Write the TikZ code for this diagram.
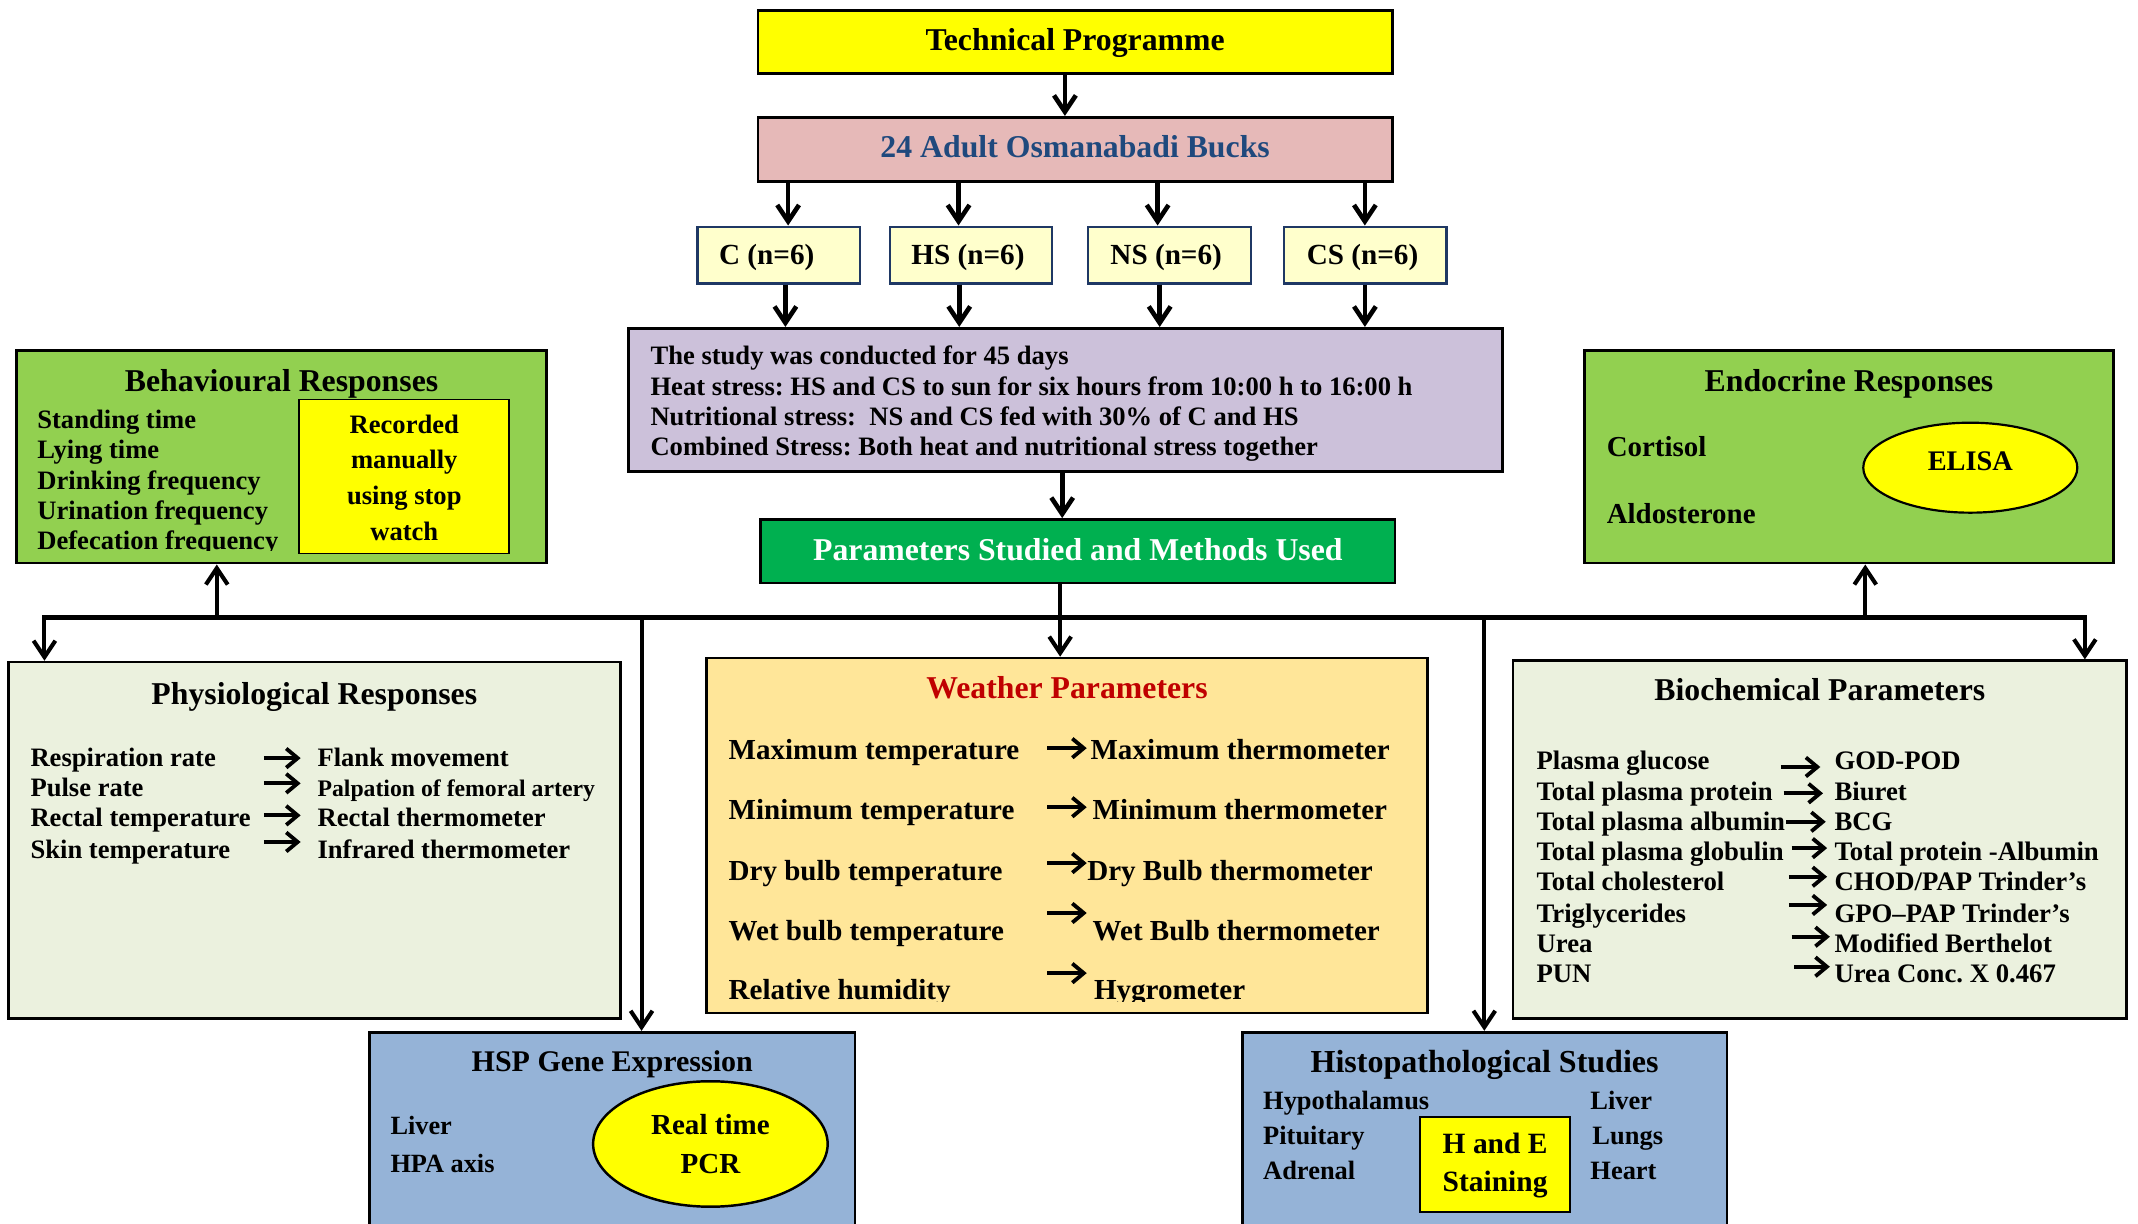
\documentclass[tikz,border=0pt]{standalone}
\usepackage{fontspec}
\setmainfont{Liberation Serif}
\usetikzlibrary{arrows.meta,fit,shapes.geometric}
\definecolor{cYellow}{HTML}{FFFF00}
\definecolor{cPink}{HTML}{E6B9B8}
\definecolor{cBlueText}{HTML}{1F497D}
\definecolor{cGroup}{HTML}{FFFFCC}
\definecolor{cGroupBorder}{HTML}{1F3864}
\definecolor{cLav}{HTML}{CCC1DA}
\definecolor{cParam}{HTML}{00B050}
\definecolor{cLime}{HTML}{92D050}
\definecolor{cPale}{HTML}{EBF1DE}
\definecolor{cWeather}{HTML}{FFE699}
\definecolor{cRed}{HTML}{C00000}
\definecolor{cSteel}{HTML}{95B3D7}
\newcommand\fs[1]{\fontsize{#1pt}{#1pt}\selectfont\bfseries}
\newcommand\st{\rule[-0.25em]{0pt}{1.05em}}
\frenchspacing
\begin{document}
\begin{tikzpicture}[x=0.5pt,y=-0.5pt,
  box/.style={draw=black, line width=1pt, inner sep=0pt},
  grp/.style={draw=cGroupBorder, line width=0.9pt, fill=cGroup, inner sep=0pt},
  ybox/.style={draw=black, line width=0.6pt, fill=cYellow, inner sep=0pt},
  txt/.style={inner sep=0pt, anchor=west, execute at begin node={\frenchspacing\st}},
  ctxt/.style={inner sep=0pt, anchor=center, execute at begin node={\frenchspacing\st}},
  fsz/.style={font=\fs{#1}},
  conn/.style={line width=1.7pt, -{Straight Barb[length=6pt,width=8pt]}},
  busline/.style={line width=1.9pt, line cap=rect},
  drop/.style={line width=1.5pt, -{Straight Barb[length=6pt,width=8pt]}},
  plain/.style={line width=1.5pt},
  marrow/.style={line width=1.4pt, -{Straight Barb[length=4.2pt,width=7pt]}},
]
\useasboundingbox (0,0) rectangle (1568,897);
\clip (0,0) rectangle (1568,897);
\fill[white] (0,0) rectangle (1568,897);

% ---------- top ----------
\node[box, fill=cYellow, fit={(556,7.5) (1021,54)}] (tech) {};
\node[ctxt, fsz=11.65] (techT) at (788.5,30.6) {Technical Programme};
\node[box, fill=cPink, fit={(556,86) (1021,133)}] (bucks) {};
\node[ctxt, fsz=11.65, text=cBlueText] (bucksT) at (788.5,108.8) {24 Adult Osmanabadi Bucks};
\draw[conn] (781,0 |- tech.south) -- (781,0 |- bucks.north);

\node[grp, fit={(511.6,166.3) (630.7,207.8)}] (gC) {};
\node[grp, fit={(652.7,166.3) (771.7,207.8)}] (gHS) {};
\node[grp, fit={(798,166.3) (917.6,207.8)}] (gNS) {};
\node[grp, fit={(941.8,166.3) (1061,207.8)}] (gCS) {};
\node[txt, fsz=10.7] (gCt) at (527,188.3) {C (n=6)};
\node[txt, fsz=10.7] (gHSt) at (668,188.3) {HS (n=6)};
\node[txt, fsz=10.7] (gNSt) at (814,188.3) {NS (n=6)};
\node[txt, fsz=10.7] (gCSt) at (958,188.3) {CS (n=6)};
\foreach \x/\g in {578/gC, 703/gHS, 849/gNS, 1001/gCS}
  \draw[conn] (\x,0 |- bucks.south) -- (\x,0 |- \g.north);

\node[box, fill=cLav, fit={(461,240.8) (1101.8,346)}] (study) {};
\foreach \x/\g in {576/gC, 703.5/gHS, 850.5/gNS, 1001/gCS}
  \draw[conn] (\x,0 |- \g.south) -- (\x,0 |- study.north);
\node[txt, fsz=9.75] (s1) at (476.7,261.6) {The study was conducted for 45 days};
\node[txt, fsz=9.75] (s2) at (476.7,284.8) {Heat stress: HS and CS to sun for six hours from 10:00 h to 16:00 h};
\node[txt, fsz=9.75] (s3) at (476.7,306.8) {Nutritional stress:~ NS and CS fed with 30\% of C and HS};
\node[txt, fsz=9.75] (s4) at (476.7,328.8) {Combined Stress: Both heat and nutritional stress together};

\node[box, fill=cParam, fit={(558,381) (1023,427.5)}] (params) {};
\node[ctxt, fsz=11.65, text=white] (paramsT) at (790.5,404.8) {Parameters Studied and Methods Used};
\draw[conn] (779,0 |- study.south) -- (779,0 |- params.north);

% ---------- behavioural ----------
\node[box, fill=cLime, fit={(12,257) (401,413)}] (behav) {};
\node[ctxt, fsz=11.65] (behavT) at (206.5,281) {Behavioural Responses};
\begin{scope}
\clip (13,258) rectangle (400,404);
\node[txt, fsz=9.75] (b1) at (27,309) {Standing time};
\node[txt, fsz=9.75] (b2) at (27,331) {Lying time};
\node[txt, fsz=9.75] (b3) at (27,353.6) {Drinking frequency};
\node[txt, fsz=9.75] (b4) at (27,375.6) {Urination frequency};
\node[txt, fsz=9.75] (b5) at (27,397.6) {Defecation frequency};
\end{scope}
\node[ybox, fit={(219.5,293) (373.5,406)}] (rec) {};
\node[ctxt, fsz=9.75] (r1) at (296.5,312.6) {Recorded};
\node[ctxt, fsz=9.75] (r2) at (296.5,338.5) {manually};
\node[ctxt, fsz=9.75] (r3) at (296.5,365) {using stop};
\node[ctxt, fsz=9.75] (r4) at (296.5,391) {watch};

% ---------- endocrine ----------
\node[box, fill=cLime, fit={(1162,257) (1550,413)}] (endo) {};
\node[ctxt, fsz=11.65] (endoT) at (1356,281) {Endocrine Responses};
\node[txt, fsz=10.6] (e1) at (1178,329) {Cortisol};
\node[txt, fsz=10.6] (e2) at (1178,378) {Aldosterone};
\node[ellipse, draw=black, line width=0.8pt, fill=cYellow, inner sep=0pt,
      minimum width=78.5pt, minimum height=33pt] (elisa) at (1445,343) {};
\node[ctxt, fsz=10.4] (elisaT) at (1445,339.7) {ELISA};

% ---------- physiological ----------
\node[box, fill=cPale, fit={(6,485.6) (455,747)}] (physio) {};
\node[ctxt, fsz=11.65] (physioT) at (230.5,510) {Physiological Responses};
\node[txt, fsz=9.75] (p1) at (22,557) {Respiration rate};
\node[txt, fsz=9.75] (p2) at (22,579) {Pulse rate};
\node[txt, fsz=9.75] (p3) at (22,601) {Rectal temperature};
\node[txt, fsz=9.75] (p4) at (22,624) {Skin temperature};
\node[txt, fsz=9.75] (q1) at (232.5,557) {Flank movement};
\node[txt, fsz=8.7] (q2) at (232.5,579) {Palpation of femoral artery};
\node[txt, fsz=9.75] (q3) at (232.5,601) {Rectal thermometer};
\node[txt, fsz=9.75] (q4) at (232.5,624) {Infrared thermometer};
\foreach \y in {556,574.5,598,617.5}
  \draw[marrow] (193.6,\y) -- (220.5,\y);

% ---------- weather ----------
\node[box, fill=cWeather, fit={(518,482.6) (1047,743)}] (weather) {};
\node[ctxt, fsz=11.65, text=cRed] (weatherT) at (782.5,506) {Weather Parameters};
\begin{scope}
\clip (519,484) rectangle (1046,734.6);
\node[txt, fsz=10.65] (w1) at (534,551.5) {Maximum temperature};
\node[txt, fsz=10.65] (w2) at (534,595.5) {Minimum temperature};
\node[txt, fsz=10.65] (w3) at (534,640) {Dry bulb temperature};
\node[txt, fsz=10.65] (w4) at (534,684) {Wet bulb temperature};
\node[txt, fsz=10.65] (w5) at (534,727.5) {Relative humidity};
\node[txt, fsz=10.65] (m1) at (799.4,551.5) {Maximum thermometer};
\node[txt, fsz=10.65] (m2) at (801,595.5) {Minimum thermometer};
\node[txt, fsz=10.65] (m3) at (797,640) {Dry Bulb thermometer};
\node[txt, fsz=10.65] (m4) at (801,684) {Wet Bulb thermometer};
\node[txt, fsz=10.65] (m5) at (802,727.5) {Hygrometer};
\end{scope}
\foreach \y in {548.7,592,633,669.6,713.7}
  \draw[marrow] (768,\y) -- (797,\y);

% ---------- biochemical ----------
\node[box, fill=cPale, fit={(1109.6,484.6) (1559.6,746.8)}] (biochem) {};
\node[ctxt, fsz=11.65] (biochemT) at (1334.6,507.4) {Biochemical Parameters};
\node[txt, fsz=9.8] (c1) at (1126.5,558.6) {Plasma glucose};
\node[txt, fsz=9.8] (c2) at (1126.5,581.8) {Total plasma protein};
\node[txt, fsz=9.8] (c3) at (1126.5,603.8) {Total plasma albumin};
\node[txt, fsz=9.8] (c4) at (1126.5,625.8) {Total plasma globulin};
\node[txt, fsz=9.8] (c5) at (1126.5,647.8) {Total cholesterol};
\node[txt, fsz=9.8] (c6) at (1126.5,671) {Triglycerides};
\node[txt, fsz=9.8] (c7) at (1126.5,693) {Urea};
\node[txt, fsz=9.8] (c8) at (1126.5,715) {PUN};
\node[txt, fsz=9.8] (d1) at (1345,558.6) {GOD-POD};
\node[txt, fsz=9.8] (d2) at (1345,581.8) {Biuret};
\node[txt, fsz=9.8] (d3) at (1345,603.8) {BCG};
\node[txt, fsz=9.8] (d4) at (1345,625.8) {Total protein -Albumin};
\node[txt, fsz=9.8] (d5) at (1345,647.8) {CHOD/PAP Trinder’s};
\node[txt, fsz=9.8] (d6) at (1345,671) {GPO–PAP Trinder’s};
\node[txt, fsz=9.8] (d7) at (1345,693) {Modified Berthelot};
\node[txt, fsz=9.8] (d8) at (1345,715) {Urea Conc. X 0.467};
\foreach \xa/\xb/\y in {1306/1335/562.5, 1308/1337/581.8, 1310/1339/602.7, 1314/1340/622,
                        1312/1340/643, 1312/1340/663.7, 1314/1342/687, 1316/1342/709}
  \draw[marrow] (\xa,\y) -- (\xb,\y);

% ---------- HSP ----------
\node[box, fill=cSteel, fit={(271,757) (627,910)}] (hsp) {};
\node[ctxt, fsz=11] (hspT) at (449,780) {HSP Gene Expression};
\node[txt, fsz=9.65] (h1) at (286,827) {Liver};
\node[txt, fsz=9.65] (h2) at (286,854.5) {HPA axis};
\node[ellipse, draw=black, line width=0.9pt, fill=cYellow, inner sep=0pt,
      minimum width=86pt, minimum height=46pt] (pcr) at (521,839) {};
\node[ctxt, fsz=10.65] (pcr1) at (521,826.5) {Real time};
\node[ctxt, fsz=10.65] (pcr2) at (521,854.5) {PCR};

% ---------- histopathological ----------
\node[box, fill=cSteel, fit={(911,757) (1266.6,910)}] (histo) {};
\node[ctxt, fsz=11.75] (histoT) at (1088.8,780) {Histopathological Studies};
\node[txt, fsz=9.7] (k1) at (926,808) {Hypothalamus};
\node[txt, fsz=9.7] (k2) at (926,834) {Pituitary};
\node[txt, fsz=9.7] (k3) at (926,859.5) {Adrenal};
\node[txt, fsz=9.7] (k4) at (1166,808) {Liver};
\node[txt, fsz=9.7] (k5) at (1167.5,834) {Lungs};
\node[txt, fsz=9.7] (k6) at (1166,859.5) {Heart};
\node[ybox, line width=0.8pt, fit={(1041.5,819) (1151.5,889)}] (hande) {};
\node[ctxt, fsz=10.8] (hande1) at (1096.5,840) {H and E};
\node[ctxt, fsz=10.8] (hande2) at (1096.5,867.6) {Staining};

% ---------- bus ----------
\coordinate (busL) at (32.6,452.6);
\coordinate (busR) at (1529,452.6);
\coordinate (busM) at (777.5,452.6);
\draw[plain] (busM |- params.south) -- (busM);
\draw[busline] (busL) -- (busR);
\draw[drop] (busL) -- (busL |- physio.north);
\draw[drop] (159,452.6) -- (159,0 |- behav.south);
\draw[drop] (470.5,452.6) -- (470.5,0 |- hsp.north);
\draw[drop] (busM) -- (busM |- weather.north);
\draw[drop] (1088.6,452.6) -- (1088.6,0 |- histo.north);
\draw[drop] (1368,452.6) -- (1368,0 |- endo.south);
\draw[drop] (busR) -- (busR |- biochem.north);
\end{tikzpicture}
\end{document}
